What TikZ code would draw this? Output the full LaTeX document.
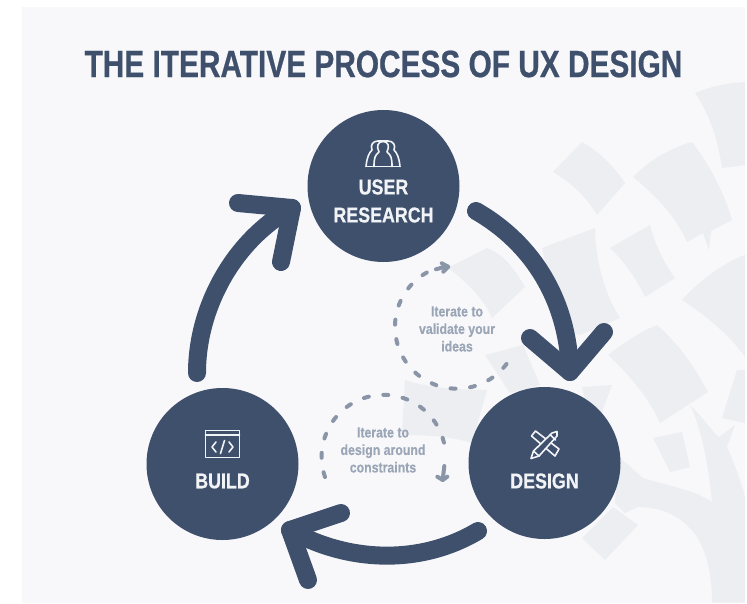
\documentclass[tikz,border=0pt]{standalone}
\usepackage{fontspec}
\setmainfont{Liberation Sans}
\newfontfamily\cond[FakeStretch=0.83,FakeBold=0.5]{Liberation Sans}
\newfontfamily\condT[FakeStretch=0.785,FakeBold=0.6]{Liberation Sans}
\newfontfamily\condS[FakeStretch=0.85,FakeBold=0.3]{Liberation Sans}
\definecolor{page}{HTML}{F8F8FB}
\definecolor{leaf}{HTML}{ECEEF1}
\definecolor{navy}{HTML}{3F506C}
\definecolor{dashc}{HTML}{8A95A8}
\definecolor{soft}{HTML}{9AA5B6}
\definecolor{ink}{HTML}{F1F3F6}
\tikzset{
  stage/.style={circle,fill=navy,minimum size=152pt,inner sep=0pt},
  stagelabel/.style={text=ink,font=\cond\bfseries\fontsize{21.5}{28}\selectfont,align=center,inner sep=0pt},
  flow/.style={draw=navy,line width=18pt,line cap=round,line join=round},
  loopline/.style={draw=dashc,line width=4pt,line cap=round,dash pattern=on 5pt off 14.6pt},
  loophead/.style={draw=dashc,line width=4pt,line cap=round,line join=round},
  looptext/.style={text=soft,font=\condS\bfseries\fontsize{14.5}{17.5}\selectfont,align=center,inner sep=0pt},
  icon/.style={draw=ink,line width=1.6pt,line join=round,line cap=round},
  treeleaf/.style={fill=leaf,draw=none}
}
\begin{document}
\begin{tikzpicture}[x=1pt,y=-1pt]
\useasboundingbox (0,0) rectangle (747,603);
\fill[white] (0,0) rectangle (747,603);
\fill[page] (22,7) rectangle (745,602.5);
% tree backdrop
\fill[treeleaf] (695,93) .. controls (715,85) and (730,83) .. (745,82) -- (745,165) -- (722,168) .. controls (718,140) and (710,115) .. (695,93) -- cycle;
\fill[treeleaf] (553,172) -- (582,142) .. controls (600,152) and (615,168) .. (625,183) -- (597,215) .. controls (585,195) and (570,182) .. (553,172) -- cycle;
\fill[treeleaf] (633,177) .. controls (650,160) and (670,148) .. (692,142) .. controls (710,165) and (725,195) .. (732,220) -- (711,231) -- (709,250) -- (703,233) -- (687,242) .. controls (675,215) and (655,195) .. (633,177) -- cycle;
\fill[treeleaf] (610,248) -- (650,225) .. controls (655,245) and (665,265) .. (675,278) -- (645,297) .. controls (637,280) and (625,262) .. (610,248) -- cycle;
\fill[treeleaf] (542,248) -- (595,228) .. controls (595,260) and (605,295) .. (620,318) -- (580,335) -- (560,330) -- cycle;
\fill[treeleaf] (448,268) -- (487,248) .. controls (505,255) and (515,270) .. (525,287) -- (492,318) .. controls (485,300) and (465,280) .. (448,268) -- cycle;
\fill[treeleaf] (682,300) .. controls (700,280) and (725,262) .. (745,255) -- (745,357) .. controls (730,335) and (705,315) .. (682,300) -- cycle;
\fill[treeleaf] (608,355) .. controls (625,342) and (640,332) .. (657,325) .. controls (680,345) and (695,368) .. (708,392) -- (660,423) .. controls (650,400) and (630,375) .. (608,355) -- cycle;
\fill[treeleaf] (485,355) -- (523,345) -- (540,385) -- (510,393) -- cycle;
\fill[treeleaf] (405,380) .. controls (430,388) and (460,390) .. (487,390) -- (472,443) .. controls (450,436) and (425,435) .. (402,435) -- cycle;
\fill[treeleaf] (582,387) -- (612,385) -- (600,417) -- (585,400) -- cycle;
\fill[treeleaf] (653,438) -- (682,432) -- (690,467) -- (670,472) -- cycle;
\fill[treeleaf] (737,370) -- (745,370) -- (745,423) -- (722,418) -- cycle;
\fill[treeleaf] (582,538) -- (613,507) -- (638,525) -- (605,560) -- cycle;
\fill[treeleaf] (618,456) -- (643,478) .. controls (665,485) and (695,490) .. (712,502) .. controls (708,460) and (700,425) .. (690,405) .. controls (705,420) and (715,435) .. (719,437) -- (735,425) -- (727,447) .. controls (735,465) and (742,485) .. (745,497) -- (745,602.5) -- (712,602.5) .. controls (712,570) and (705,550) .. (697,537) .. controls (680,512) and (655,507) .. (638,507) -- (625,513) -- (615,503) -- cycle;
% circles
\node[stage] (user) at (383.5,186) {};
\node[stage] (build) at (222.5,464) {};
\node[stage] (design) at (544.5,463) {};
% title
\node[text=navy,font=\condT\bfseries\fontsize{38}{40}\selectfont,inner sep=0pt] (title) at (383.5,64) {THE ITERATIVE PROCESS OF UX DESIGN};
% labels
\node[stagelabel] (userA) at (383.5,187) {USER};
\node[stagelabel] (userB) at (383.5,215) {RESEARCH};
\node[stagelabel] (buildL) at (222.5,481) {BUILD};
\node[stagelabel] (designL) at (544.5,481) {DESIGN};
% big arrows
\coordinate (aS) at (476,211); \coordinate (aT) at (570,372);
\coordinate (aL) at (530,338); \coordinate (aR) at (604,332);
\coordinate (bS) at (478,531); \coordinate (bT) at (290,530);
\coordinate (bL) at (341,513); \coordinate (bR) at (308,580);
\coordinate (cS) at (197,373); \coordinate (cT) at (292,208);
\coordinate (cL) at (238,203); \coordinate (cR) at (281,262);
\draw[flow] (aS) .. controls (533.5,244) and (568,301) .. (aT);
\draw[flow] (aL) -- (aT) -- (aR);
\draw[flow] (bS) .. controls (421,565) and (349,563) .. (bT);
\draw[flow] (bL) -- (bT) -- (bR);
\draw[flow] (cS) .. controls (197,307) and (234,240) .. (cT);
\draw[flow] (cL) -- (cT) -- (cR);
% iteration loops
\coordinate (dS) at (506.5,364); \coordinate (dT) at (448.3,266.7);
\coordinate (dB) at (436,269.3);
\coordinate (eS) at (325,477); \coordinate (eT) at (442.7,480);
\coordinate (eB) at (444.3,466);
\draw[loopline] (dS) arc[start angle=37,end angle=243,radius=62];
\draw[loophead] (dB) -- (445,266.7);
\draw[loophead] (441.7,263.3) -- (dT) -- (443.3,271.7);
\draw[loopline] (eS) arc[start angle=161,end angle=352,radius=62];
\draw[loophead] (eB) -- (eT);
\draw[loophead] (437.3,476.7) -- (eT) -- (447.3,476.7);
\node[looptext] (v) at (457,329) {Iterate to\\validate your\\ideas};
\node[looptext] (w) at (383,450) {Iterate to\\design around\\constraints};
% icon: people
\draw[icon] (366,166.5) -- (400,166.5);
\draw[icon] (366,166.5) .. controls (367,157) and (369,153) .. (372,150) .. controls (370,145) and (373,141) .. (378,141) -- (388,141) .. controls (393,141) and (396,145) .. (394,150) .. controls (397,153) and (399,157) .. (400,166.5);
\draw[icon] (374,166.5) .. controls (374,158) and (375,155) .. (379,152) .. controls (376,146) and (378,141.5) .. (383,141.5) .. controls (388,141.5) and (390,146) .. (387,152) .. controls (391,155) and (392,158) .. (392,166.5);
% icon: code window
\draw[icon] (205.5,430.5) rectangle (239.5,457.5);
\draw[icon] (205.5,435) -- (239.5,435);
\draw[icon] (216,442) -- (212,447) -- (216,452);
\draw[icon] (229,442) -- (233,447) -- (229,452);
\draw[icon] (224.5,440.5) -- (220.5,453.5);
% icon: pencil and ruler
\draw[icon] (531.5,436) -- (535.5,431) -- (559,449) -- (555,456) -- cycle;
\draw[icon,fill=navy] (531,458.5) -- (533.5,451) -- (552,433) -- (557,431.5) -- (557,436) -- (539,456) -- cycle;
\draw[icon] (533.5,451) -- (539,456);
\draw[icon] (550,434.5) -- (555.5,440);
\end{tikzpicture}
\end{document}
